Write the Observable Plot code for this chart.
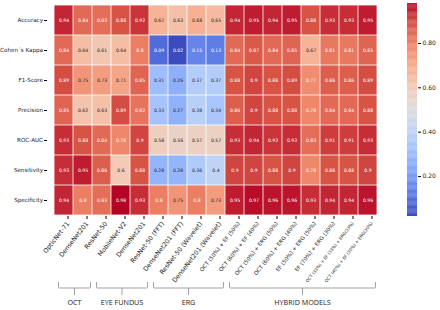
<!DOCTYPE html>
<html><head><meta charset="utf-8">
<script src="https://cdn.jsdelivr.net/npm/d3@7"></script>
<script src="https://cdn.jsdelivr.net/npm/@observablehq/plot@0.6"></script>
<style>
body{margin:0;background:#fff;}
#wrap{position:relative;width:440px;height:310px;overflow:hidden;}
#wrap svg{position:absolute;left:0;top:0;}
</style></head><body><div id="wrap"></div>
<script>
const models = ["OpticNet-71","DenseNet201","ResNet-50","MobileNet-V2","DenseNet201",
  "ResNet-50 (FFT)","DenseNet201 (FFT)","ResNet-50 (Wavelet)","DenseNet201 (Wavelet)",
  "OCT (50%) + EF (50%)","OCT (60%) + EF (40%)","OCT (50%) + ERG (50%)","OCT (60%) + ERG (40%)",
  "EF (50%) + ERG (50%)","EF (70%) + ERG (30%)","OCT (33%) + EF (33%) + ERG(33%)","OCT (40%) + EF (30%) + ERG(30%)"];
const metrics = ["Accuracy","Cohen´s Kappa","F1-Score","Precision","ROC-AUC","Sensitivity","Specificity"];
const accuracy    = [0.94,0.84,0.83,0.88,0.92,0.67,0.63,0.68,0.65,0.94,0.95,0.94,0.95,0.88,0.93,0.93,0.95];
const kappa       = [0.84,0.64,0.61,0.64,0.8,0.09,0.02,0.15,0.13,0.84,0.87,0.84,0.85,0.67,0.81,0.81,0.85];
const f1          = [0.89,0.75,0.73,0.71,0.85,0.31,0.26,0.37,0.37,0.88,0.9,0.88,0.89,0.77,0.86,0.86,0.89];
const precision   = [0.85,0.62,0.63,0.89,0.82,0.33,0.27,0.38,0.34,0.86,0.9,0.88,0.88,0.78,0.84,0.84,0.88];
const rocauc      = [0.93,0.88,0.84,0.78,0.9,0.58,0.56,0.57,0.57,0.93,0.94,0.92,0.93,0.83,0.91,0.91,0.93];
const sensitivity = [0.93,0.95,0.86,0.6,0.88,0.28,0.28,0.36,0.4,0.9,0.9,0.88,0.9,0.78,0.88,0.88,0.9];
const specificity = [0.94,0.8,0.83,0.98,0.93,0.8,0.75,0.8,0.73,0.95,0.97,0.96,0.96,0.93,0.94,0.94,0.96];
const colorbarTicks = [0.2,0.4,0.6,0.8];
const groups = [
  {name:"OCT", first:0, last:1},
  {name:"EYE FUNDUS", first:2, last:4},
  {name:"ERG", first:5, last:8},
  {name:"HYBRID MODELS", first:9, last:16}
];

const rows = [accuracy,kappa,f1,precision,rocauc,sensitivity,specificity];
const data = [];
rows.forEach((r,j)=>r.forEach((v,i)=>data.push({model:i, metric:metrics[j], v})));

const coolwarmStops = ["#3b4cc0","#5977e3","#7b9ff9","#9ebeff","#c0d4f5","#dddcdc","#f2cbb7","#f7ac8e","#ee8468","#d65244","#b40426"];
const coolwarm = d3.piecewise(d3.interpolateRgb, coolwarmStops);
const ext = d3.extent(data, d=>d.v);
const colorOpts = {type:"linear", domain: ext, interpolate: t => coolwarm(t)};
const cscale = Plot.scale({color: colorOpts});
function lum(c){
  const rgb = d3.rgb(c);
  const f = x => { x/=255; return x<=0.03928 ? x/12.92 : Math.pow((x+0.055)/1.055,2.4); };
  return 0.2126*f(rgb.r)+0.7152*f(rgb.g)+0.0722*f(rgb.b);
}

const font = "DejaVu Sans, sans-serif";

function brackets(index, scales, values, dims){
  const g = d3.create("svg:g");
  const bw = scales.x(1) - scales.x(0);
  const yTop = 282, yH = 288, yC = 295, yL = 305;
  for (const grp of groups){
    const x1 = scales.x(grp.first) + 4.5;
    const x2 = scales.x(grp.last) + bw - 1.5;
    const xm = (x1+x2)/2;
    g.append("path")
      .attr("d", `M${x1},${yTop}V${yH-1}Q${x1},${yH} ${x1+1},${yH}H${x2-1}Q${x2},${yH} ${x2},${yH-1}V${yTop}M${xm},${yH}V${yC}`)
      .attr("fill","none").attr("stroke","#8a8a8a").attr("stroke-width",0.8);
    g.append("text").attr("x",xm).attr("y",yL).attr("text-anchor","middle")
      .attr("font-family","Open Sans, sans-serif").attr("font-size",7.2).attr("fill","#222")
      .text(grp.name);
  }
  return g.node();
}

const main = Plot.plot({
  width: 440, height: 310,
  marginLeft: 47, marginRight: 56, marginTop: 3, marginBottom: 94,
  style: {fontFamily: font, background: "transparent"},
  x: {type:"band", domain: d3.range(models.length), padding: 0, label: null},
  y: {type:"band", domain: metrics, padding: 0, label: null},
  color: colorOpts,
  marks: [
    Plot.cell(data, {x:"model", y:"metric", fill:"v", inset: 0.4}),
    Plot.text(data, {x:"model", y:"metric", text: d => String(+d.v.toFixed(2)), fontSize: 4.6,
      fill: d => lum(cscale.apply(d.v)) > 0.408 ? "#262626" : "#ffffff"}),
    Plot.axisX({tickFormat: i => models[i], tickRotate: -52, tickSize: 3, tickPadding: 3, dx: 4,
      fontSize: i => i >= 15 ? 4.2 : i >= 9 ? 5.4 : 6.3, fill: "#222", label: null}),
    Plot.axisY({tickSize: 3, tickPadding: 1.5, fontSize: 5.6, fill: "#222", label: null}),
    brackets
  ]
});

const step = 0.004;
const bar = d3.range(ext[0], ext[1], step);
const cbar = Plot.plot({
  width: 440, height: 310,
  marginLeft: 407, marginRight: 23, marginTop: 3, marginBottom: 94,
  style: {fontFamily: font, background: "transparent"},
  x: {axis: null},
  y: {domain: ext, label: null},
  color: colorOpts,
  marks: [
    Plot.rect(bar, {y1: d => d, y2: d => Math.min(d + step + 0.001, ext[1]), fill: d => d}),
    Plot.axisY(colorbarTicks, {anchor: "right", tickFormat: d3.format(".2f"), tickSize: 3, tickPadding: 2, fontSize: 6, fill: "#222", label: null})
  ]
});

document.getElementById("wrap").append(main, cbar);
</script>
</body></html>
